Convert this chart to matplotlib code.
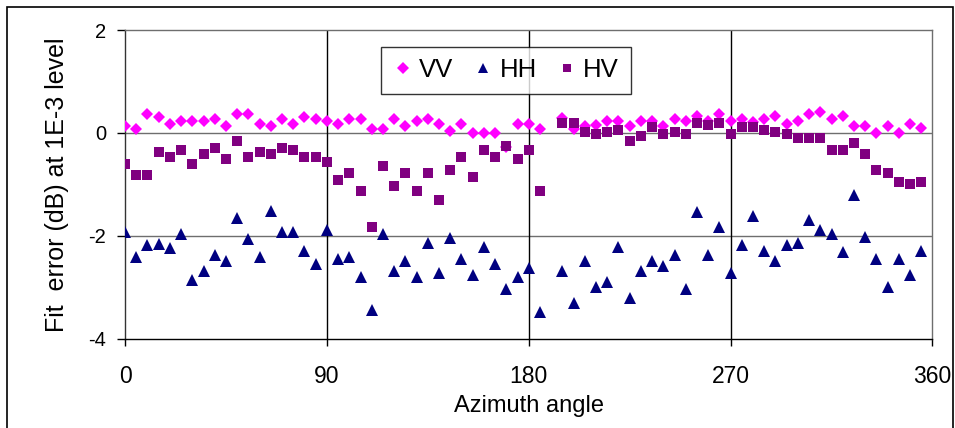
import numpy as np
import matplotlib
matplotlib.use("Agg")
import matplotlib.pyplot as plt
from matplotlib.patches import Rectangle

plt.rcParams['font.family'] = ['Liberation Sans', 'DejaVu Sans']
plt.rcParams['axes.unicode_minus'] = False

# azimuth angles (no sample at 190)
angle = list(range(0, 190, 5)) + list(range(195, 360, 5))

vv = [0.13, 0.08, 0.36, 0.31, 0.17, 0.23, 0.23, 0.23, 0.27, 0.13,
      0.36, 0.36, 0.17, 0.13, 0.27, 0.17, 0.31, 0.27, 0.23, 0.17,
      0.27, 0.27, 0.08, 0.08, 0.27, 0.13, 0.23, 0.27, 0.17, 0.04,
      0.17, -0.01, -0.01, -0.01, -0.27, 0.17, 0.17, 0.08,
      0.28, 0.08, 0.13, 0.15, 0.23, 0.23, 0.14, 0.23, 0.23, 0.14,
      0.27, 0.23, 0.32, 0.23, 0.36, 0.23, 0.27, 0.21, 0.27, 0.32,
      0.18, 0.23, 0.36, 0.40, 0.27, 0.32, 0.14, 0.14, 0.00, 0.14,
      0.00, 0.18, 0.09]

hh = [-1.92, -2.42, -2.19, -2.16, -2.24, -1.97, -2.86, -2.68, -2.37, -2.50,
      -1.66, -2.06, -2.42, -1.52, -1.92, -1.92, -2.29, -2.55, -1.88, -2.45,
      -2.42, -2.81, -3.44, -1.97, -2.68, -2.50, -2.81, -2.14, -2.72, -2.05,
      -2.45, -2.77, -2.23, -2.55, -3.03, -2.81, -2.63, -3.48,
      -2.68, -3.31, -2.50, -2.99, -2.90, -2.23, -3.21, -2.68, -2.50, -2.59,
      -2.37, -3.03, -1.53, -2.37, -1.84, -2.72, -2.19, -1.62, -2.29, -2.50,
      -2.19, -2.14, -1.70, -1.88, -1.97, -2.32, -1.21, -2.02, -2.46, -2.99,
      -2.46, -2.77, -2.29]

hv = [-0.60, -0.82, -0.82, -0.38, -0.47, -0.33, -0.60, -0.42, -0.29, -0.51,
      -0.16, -0.47, -0.38, -0.42, -0.29, -0.33, -0.47, -0.47, -0.56, -0.91,
      -0.78, -1.13, -1.84, -0.65, -1.04, -0.78, -1.13, -0.78, -1.31, -0.73,
      -0.47, -0.86, -0.33, -0.47, -0.25, -0.51, -0.33, -1.13,
      0.20, 0.20, 0.02, -0.02, 0.02, 0.06, -0.16, -0.06, 0.11, -0.02,
      0.02, -0.02, 0.20, 0.16, 0.20, -0.02, 0.11, 0.11, 0.06, 0.02,
      -0.02, -0.11, -0.11, -0.11, -0.33, -0.33, -0.20, -0.42, -0.73, -0.78,
      -0.95, -1.00, -0.95]

xticks = [0, 90, 180, 270, 360]
yticks = [-4, -2, 0, 2]

fig = plt.figure(figsize=(9.55, 4.28), dpi=100)
ax = fig.add_axes([0.1309, 0.2091, 0.8455, 0.7208])

ax.plot(angle, vv, 'D', color='#FF00FF', ms=6.3, mew=0, label='VV', zorder=3)
ax.plot(angle, hh, '^', color='#000080', ms=8, mew=0, label='HH', zorder=3)
ax.plot(angle, hv, 's', color='#800080', ms=6.5, mew=0, label='HV', zorder=3)

ax.set_xlim(0, 360)
ax.set_ylim(-4, 2)
ax.set_xticks(xticks)
ax.set_yticks(yticks)

for y in [-2, 0]:
    ax.axhline(y, color='#6e6e6e', lw=1.0, zorder=1)
for x in [90, 180, 270]:
    ax.axvline(x, color='black', lw=1.0, zorder=1)

ax.spines['top'].set_color('#6e6e6e')
ax.spines['right'].set_color('#6e6e6e')
ax.spines['left'].set_color('#333333')
ax.spines['bottom'].set_color('black')
for s in ax.spines.values():
    s.set_linewidth(1.0)

ax.tick_params(axis='x', direction='out', length=5, width=1, pad=14, labelsize=16.5)
ax.tick_params(axis='y', direction='out', length=5.5, width=1, pad=8, labelsize=14.5)

ax.set_xlabel('Azimuth angle', fontsize=17, labelpad=5)
ax.set_ylabel('Fit  error (dB) at 1E-3 level', fontsize=18, labelpad=14)

leg = ax.legend(loc='center', bbox_to_anchor=(0.4715, 0.87), ncol=3, fontsize=18.5,
                frameon=True, fancybox=False, markerscale=0.9,
                handlelength=0.8, handletextpad=0.25, columnspacing=0.75,
                borderpad=0.45, borderaxespad=0)
leg.get_frame().set_edgecolor('black')
leg.get_frame().set_linewidth(1.0)

fig.patches.append(Rectangle((7 / 955, -10 / 428), 946 / 955, 431 / 428,
                             transform=fig.transFigure, fill=False,
                             edgecolor='black', lw=1.2))

plt.savefig('out.png', dpi=100)
